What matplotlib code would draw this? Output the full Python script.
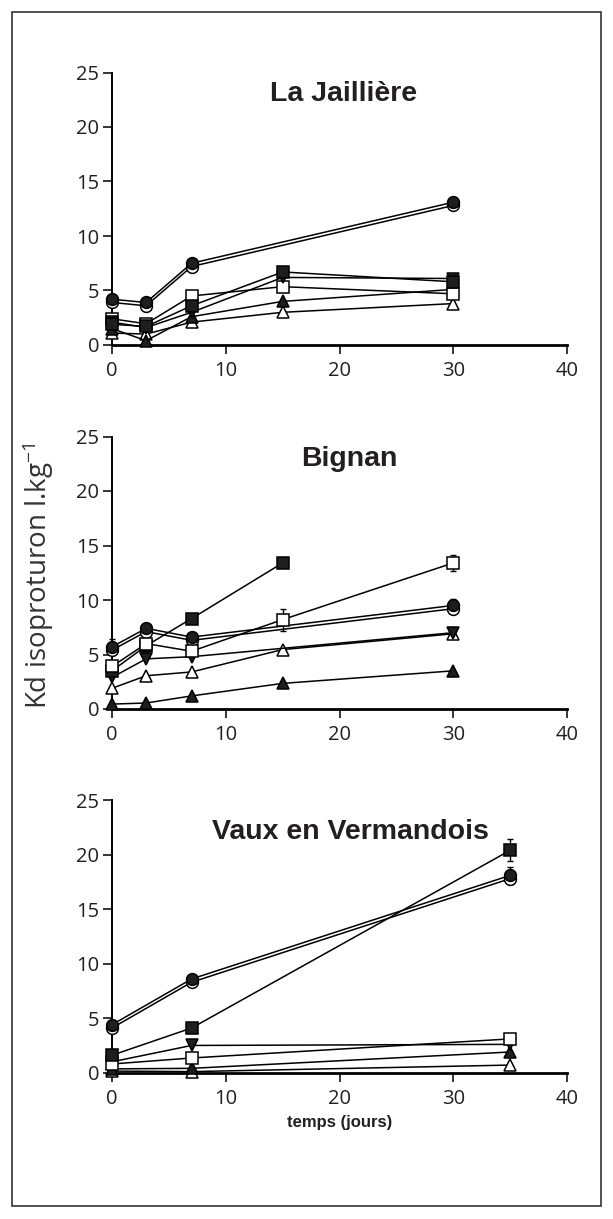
import matplotlib
matplotlib.use("Agg")
import matplotlib.pyplot as plt
from matplotlib.patches import Rectangle

plt.rcParams["font.family"] = ["Open Sans", "DejaVu Sans"]
plt.rcParams["mathtext.fontset"] = "custom"
plt.rcParams["mathtext.rm"] = "Open Sans"
plt.rcParams["mathtext.default"] = "regular"

# ---- La Jaillière ----
jai_t = [0, 3, 7, 15, 30]
jai_t_circ = [0, 3, 7, 30]
jai_circ_fill = [4.2, 3.9, 7.5, 13.1]
jai_circ_open = [3.9, 3.6, 7.2, 12.8]
jai_circ_err = [0.2, 0.2, 0.2, 0.4]
jai_sq_fill = [1.9, 1.7, 3.6, 6.7, 5.8]
jai_sq_open = [2.4, 1.95, 4.5, 5.35, 4.7]
jai_tri_fill = [1.5, 0.4, 2.6, 4.0, 5.1]
jai_tri_open = [1.1, 1.0, 2.1, 3.0, 3.8]
jai_tri_down = [2.1, 1.6, 3.0, 6.2, 6.1]

# ---- Bignan ----
big_t = [0, 3, 7, 15, 30]
big_t_sq_fill = [0, 3, 7, 15]
big_t_circ = [0, 3, 7, 30]
big_t_down = [0, 3, 7, 30]
big_sq_fill = [3.5, 5.8, 8.3, 13.4]
big_sq_fill_err = [0.0, 0.0, 0.0, 0.4]
big_circ_fill = [5.7, 7.4, 6.6, 9.5]
big_circ_open = [5.4, 7.1, 6.3, 9.2]
big_circ_err = [0.7, 0.2, 0.2, 0.6]
big_sq_open = [3.9, 6.0, 5.3, 8.2, 13.4]
big_sq_open_err = [0.0, 0.0, 0.0, 1.0, 0.7]
big_tri_down = [2.9, 4.6, 4.8, 7.0]
big_tri_open = [1.9, 3.05, 3.4, 5.45, 6.9]
big_tri_fill = [0.45, 0.55, 1.2, 2.35, 3.5]

# ---- Vaux en Vermandois ----
vau_t = [0, 7, 35]
vau_sq_fill = [1.6, 4.1, 20.4]
vau_sq_fill_err = [0.0, 0.0, 1.0]
vau_circ_fill = [4.4, 8.6, 18.1]
vau_circ_open = [4.1, 8.3, 17.8]
vau_circ_err = [0.2, 0.2, 0.8]
vau_tri_down = [1.0, 2.5, 2.6]
vau_sq_open = [0.8, 1.35, 3.1]
vau_tri_fill = [0.35, 0.4, 1.9]
vau_tri_open = [0.15, 0.1, 0.7]

site_names = ["La Jaillière", "Bignan", "Vaux en Vermandois"]
x_ticks = [0, 10, 20, 30, 40]
y_ticks = [0, 5, 10, 15, 20, 25]

INK = "#231f20"
DARK = "#1e1e1e"
LW = 1.1


def series(ax, x, y, marker, filled, err=None, ms=8.0, z=3):
    face = DARK if filled else "white"
    if err is not None:
        ax.errorbar(x, y, yerr=err, fmt="none", ecolor="black", elinewidth=1.0,
                    capsize=2.5, capthick=1.0, zorder=z - 0.5, clip_on=False)
    ax.plot(x, y, color="black", lw=LW, marker=marker, ms=ms,
            mfc=face, mec="black", mew=1.1, zorder=z, clip_on=False)


def style(ax, title, tx, ty):
    ax.set_xlim(0, 40)
    ax.set_ylim(0, 25)
    ax.set_xticks(x_ticks)
    ax.set_yticks(y_ticks)
    for s in ("top", "right"):
        ax.spines[s].set_visible(False)
    ax.spines["left"].set_linewidth(1.4)
    ax.spines["bottom"].set_linewidth(2.0)
    ax.tick_params(direction="out", length=6.8, width=1.1, labelsize=14.5,
                   colors="black", labelcolor=INK)
    ax.tick_params(axis="x", pad=5)
    ax.tick_params(axis="y", pad=2.4)
    ax.patch.set_alpha(0)
    ax.text(tx, ty, title, ha="center", va="center", fontsize=20.5,
            fontweight="bold", family=["Liberation Sans", "DejaVu Sans"],
            color=INK)


fig = plt.figure(figsize=(6.13, 12.19), dpi=100)
left, width = 112 / 613, 455 / 613
bottoms = [1 - 345 / 1219, 1 - 709 / 1219, 1 - 1072.7 / 1219]
height = 272.5 / 1219
axes = [fig.add_axes([left, b, width, height]) for b in bottoms]

# La Jaillière
ax = axes[0]
series(ax, jai_t, jai_tri_open, "^", False, ms=8.5)
series(ax, jai_t, jai_tri_fill, "^", True, ms=8.5)
series(ax, jai_t, jai_sq_open, "s", False)
series(ax, jai_t, jai_tri_down, "v", True, ms=8.5)
series(ax, jai_t, jai_sq_fill, "s", True)
series(ax, jai_t_circ, jai_circ_open, "o", False, ms=8.5)
series(ax, jai_t_circ, jai_circ_fill, "o", True, err=jai_circ_err, ms=8.5)
style(ax, site_names[0], 20.4, 23.0)

# Bignan
ax = axes[1]
series(ax, big_t, big_tri_fill, "^", True, ms=8.5)
series(ax, big_t, big_tri_open, "^", False, ms=8.5)
series(ax, big_t_down, big_tri_down, "v", True, ms=8.5)
series(ax, big_t_sq_fill, big_sq_fill, "s", True, err=big_sq_fill_err)
series(ax, big_t_circ, big_circ_open, "o", False, ms=8.5)
series(ax, big_t_circ, big_circ_fill, "o", True, err=big_circ_err, ms=8.5)
series(ax, big_t, big_sq_open, "s", False, err=big_sq_open_err)
style(ax, site_names[1], 20.9, 22.9)

# Vaux en Vermandois
ax = axes[2]
series(ax, vau_t, vau_tri_open, "^", False, ms=8.5)
series(ax, vau_t, vau_tri_fill, "^", True, ms=8.5)
series(ax, vau_t, vau_tri_down, "v", True, ms=8.5)
series(ax, vau_t, vau_sq_open, "s", False)
series(ax, vau_t, vau_sq_fill, "s", True, err=vau_sq_fill_err)
series(ax, vau_t, vau_circ_open, "o", False, ms=8.5)
series(ax, vau_t, vau_circ_fill, "o", True, err=vau_circ_err, ms=8.5)
style(ax, site_names[2], 21.0, 22.1)

fig.text(38 / 613, 1 - 576 / 1219, r"Kd isoproturon l.kg$^{-1}$", rotation=90,
         ha="center", va="center", fontsize=20, color="#333333")
fig.text(340 / 613, 1 - 1122 / 1219, "temps (jours)", ha="center", va="center",
         fontsize=12, fontweight="bold", family=["Liberation Sans", "DejaVu Sans"],
         color=INK)

# outer frame
fig.patches.append(Rectangle((12 / 613, 1 - 1206 / 1219), 589 / 613, 1194 / 1219,
                             transform=fig.transFigure, fill=False,
                             edgecolor="#333333", lw=1.2))

fig.savefig("out.png", dpi=100)
